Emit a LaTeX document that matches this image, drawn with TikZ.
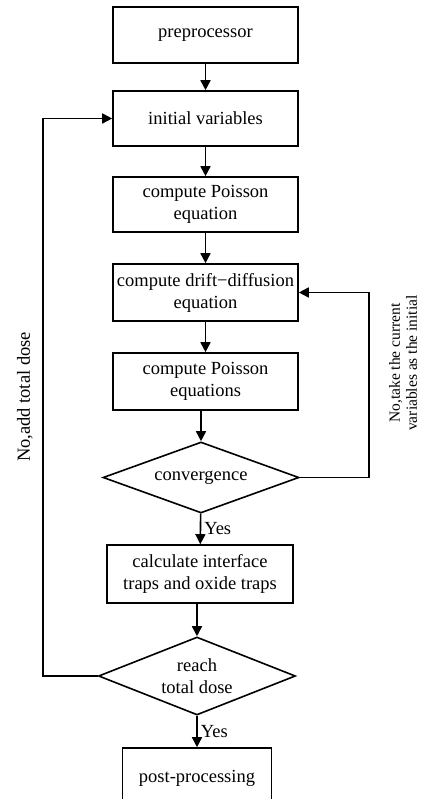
\documentclass[tikz,border=0pt]{standalone}
\usepackage{fontspec}
\setmainfont{Liberation Serif}
\usetikzlibrary{shapes.geometric,arrows.meta}

\begin{document}
\begin{tikzpicture}[x=1pt,y=-1pt,
  font=\fontsize{18.5}{22}\selectfont,
  line width=1.6pt,
  box/.style={draw, align=center, minimum width=185pt, minimum height=56pt, inner sep=2pt},
  test/.style={draw, diamond, align=center, aspect=2.6, inner sep=0pt},
  flow/.style={-{Triangle[length=10pt,width=10pt]}}]

% -------------------------------------------------
% Cadre
% -------------------------------------------------
\useasboundingbox (0,0) rectangle (422,799);

% -------------------------------------------------
% Blocs
% -------------------------------------------------
\node[box] (pre) at (205.5,35) {preprocessor};
\node[box, minimum height=55pt] (init) at (205.5,118.5) {initial variables};
\node[box, minimum height=55pt] (poisson) at (205.5,204.5) {compute Poisson\\equation};
\node[box, minimum height=57pt] (drift) at (205.5,292.5) {compute drift−diffusion\\equation};
\node[box, minimum height=57pt] (poissons) at (205.5,381.5) {compute Poisson\\equations};
\node[test, minimum width=196pt, minimum height=71pt] (conv) at (201,477.5) {convergence};
\node[box, minimum width=186pt, minimum height=58pt] (traps) at (200,574) {calculate interface\\traps and oxide traps};
\node[test, minimum width=197pt, minimum height=78pt] (dose) at (197,676) {reach\\total dose};
\node[box, minimum width=149pt, minimum height=60pt] (post) at (197,778) {post-processing};

% -------------------------------------------------
% Fleches
% -------------------------------------------------
\draw[flow] (pre) -- (init);
\draw[flow] (init) -- (poisson);
\draw[flow] (poisson) -- (drift);
\draw[flow] (drift) -- (poissons);
\draw[flow] (conv.north |- poissons.south) -- (conv.north);
\draw[flow] (conv) -- node[right, inner sep=3pt] {Yes} (traps);
\draw[flow] (dose.north |- traps.south) -- (dose.north);
\draw[flow] (dose) -- node[right, inner sep=3pt] {Yes} (post);

% -------------------------------------------------
% Boucles de retour
% -------------------------------------------------
\coordinate (rloop) at (369,0);
\coordinate (lloop) at (43,0);
\draw[flow] (conv.east) -- (conv.east -| rloop) -- (drift.east -| rloop) -- (drift.east);
\draw[flow] (dose.west) -- (dose.west -| lloop) -- (init.west -| lloop) -- (init.west);

% -------------------------------------------------
% Labels
% -------------------------------------------------
\node[rotate=90] (noadd) at (25,397) {No,add total dose};
\node[rotate=90, align=center, font=\fontsize{15.5}{17}\selectfont] (notake) at (403,363)
  {No,take the current\\variables as the initial};

\end{tikzpicture}
\end{document}
